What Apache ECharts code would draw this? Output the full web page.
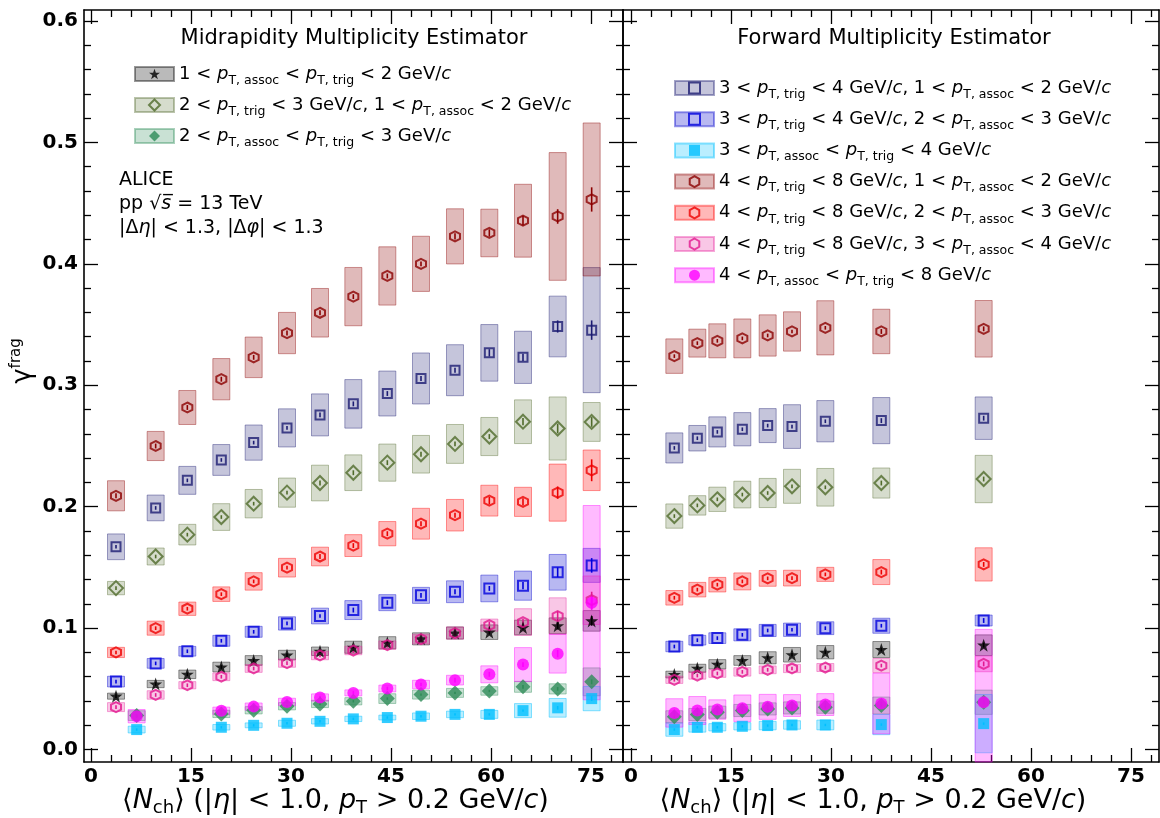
<!DOCTYPE html>
<html><head><meta charset="utf-8">
<script src="https://cdn.jsdelivr.net/npm/echarts/dist/echarts.min.js"></script>
<style>html,body{margin:0;padding:0;background:#fff}#c{width:1160px;height:818px}</style>
</head><body><div id="c"></div><script>
// ---------- tick values ----------
const xMajorTicks = [0, 15, 30, 45, 60, 75];
const xMinorTicks = [3, 6, 9, 12, 18, 21, 24, 27, 33, 36, 39, 42, 48, 51, 54, 57, 63, 66, 69, 72, 78];
const yMajorTicks = [0, 0.1, 0.2, 0.3, 0.4, 0.5, 0.6];
const yTickLabels = ['0.0', '0.1', '0.2', '0.3', '0.4', '0.5', '0.6'];
const yMinorTicks = [0.02, 0.04, 0.06, 0.08, 0.12, 0.14, 0.16, 0.18, 0.22, 0.24, 0.26, 0.28, 0.32, 0.34, 0.36, 0.38, 0.42, 0.44, 0.46, 0.48, 0.52, 0.54, 0.56, 0.58];

// ---------- categories (legend labels) ----------
const seriesKeys = ['A', 'B', 'C', 'D', 'E', 'F', 'G', 'H', 'I', 'J'];
const legendLabels = {
  A: '1 < {i|p}{s|T, assoc} < {i|p}{s|T, trig} < 2 GeV/{i|c}',
  B: '2 < {i|p}{s|T, trig} < 3 GeV/{i|c}, 1 < {i|p}{s|T, assoc} < 2 GeV/{i|c}',
  C: '2 < {i|p}{s|T, assoc} < {i|p}{s|T, trig} < 3 GeV/{i|c}',
  D: '3 < {i|p}{s|T, trig} < 4 GeV/{i|c}, 1 < {i|p}{s|T, assoc} < 2 GeV/{i|c}',
  E: '3 < {i|p}{s|T, trig} < 4 GeV/{i|c}, 2 < {i|p}{s|T, assoc} < 3 GeV/{i|c}',
  F: '3 < {i|p}{s|T, assoc} < {i|p}{s|T, trig} < 4 GeV/{i|c}',
  G: '4 < {i|p}{s|T, trig} < 8 GeV/{i|c}, 1 < {i|p}{s|T, assoc} < 2 GeV/{i|c}',
  H: '4 < {i|p}{s|T, trig} < 8 GeV/{i|c}, 2 < {i|p}{s|T, assoc} < 3 GeV/{i|c}',
  I: '4 < {i|p}{s|T, trig} < 8 GeV/{i|c}, 3 < {i|p}{s|T, assoc} < 4 GeV/{i|c}',
  J: '4 < {i|p}{s|T, assoc} < {i|p}{s|T, trig} < 8 GeV/{i|c}'
};
const leftLegendKeys = ['A', 'B', 'C'];
const rightLegendKeys = ['D', 'E', 'F', 'G', 'H', 'I', 'J'];

// ---------- Midrapidity estimator data ----------
const midX    = [3.75, 9.7, 14.45, 19.55, 24.4, 29.4, 34.35, 39.35, 44.45, 49.5, 54.6, 59.75, 64.8, 70.0, 75.1];
const midXLow = [6.85, 19.55, 24.4, 29.4, 34.35, 39.35, 44.45, 49.5, 54.6, 59.75, 64.8, 70.0, 75.1];

const midA     = [0.044, 0.054, 0.062, 0.068, 0.0734, 0.0778, 0.081, 0.0843, 0.088, 0.0912, 0.096, 0.0967, 0.1006, 0.102, 0.106];
const midAsys  = [0.0025, 0.003, 0.0035, 0.004, 0.004, 0.004, 0.0035, 0.005, 0.005, 0.005, 0.005, 0.006, 0.006, 0.0065, 0.0085];
const midAstat = [0.0015, 0.0015, 0.0015, 0.0015, 0.0015, 0.0015, 0.0015, 0.0015, 0.0015, 0.0015, 0.0015, 0.002, 0.002, 0.003, 0.004];

const midB     = [0.133, 0.159, 0.177, 0.1915, 0.2025, 0.2116, 0.2195, 0.228, 0.2363, 0.2432, 0.2517, 0.2578, 0.270, 0.2644, 0.2698];
const midBsys  = [0.0055, 0.007, 0.0085, 0.011, 0.0117, 0.012, 0.0147, 0.0147, 0.0153, 0.0155, 0.016, 0.0157, 0.018, 0.026, 0.016];
const midBstat = [0.0015, 0.0015, 0.0015, 0.0015, 0.0015, 0.0015, 0.002, 0.002, 0.002, 0.002, 0.002, 0.002, 0.003, 0.004, 0.004];

const midC     = [0.028, 0.0294, 0.0324, 0.0357, 0.0376, 0.0398, 0.042, 0.0453, 0.0467, 0.0483, 0.0517, 0.050, 0.0558];
const midCsys  = [0.004, 0.003, 0.003, 0.003, 0.003, 0.003, 0.004, 0.0037, 0.0037, 0.0035, 0.0045, 0.0042, 0.0115];
const midCstat = [0.001, 0.001, 0.001, 0.001, 0.001, 0.001, 0.001, 0.001, 0.001, 0.001, 0.0015, 0.0015, 0.002];

const midD     = [0.167, 0.199, 0.2217, 0.2385, 0.2528, 0.2649, 0.2756, 0.2847, 0.2932, 0.3056, 0.3124, 0.3267, 0.323, 0.3484, 0.3454];
const midDsys  = [0.0106, 0.0106, 0.0115, 0.0127, 0.0145, 0.0157, 0.0173, 0.020, 0.0185, 0.021, 0.021, 0.0233, 0.0215, 0.025, 0.0515];
const midDstat = [0.0015, 0.0015, 0.0015, 0.0015, 0.0015, 0.0015, 0.002, 0.002, 0.002, 0.002, 0.002, 0.003, 0.003, 0.005, 0.008];

const midE     = [0.056, 0.071, 0.081, 0.0896, 0.097, 0.1039, 0.110, 0.1149, 0.121, 0.127, 0.130, 0.1327, 0.135, 0.146, 0.1517];
const midEsys  = [0.0044, 0.004, 0.004, 0.0045, 0.0045, 0.0055, 0.0065, 0.0078, 0.0066, 0.0066, 0.009, 0.011, 0.012, 0.0147, 0.014];
const midEstat = [0.0015, 0.0015, 0.0015, 0.0015, 0.0015, 0.0015, 0.0015, 0.002, 0.002, 0.002, 0.002, 0.002, 0.003, 0.004, 0.006];

const midF     = [0.0165, 0.0184, 0.020, 0.0217, 0.0233, 0.0253, 0.0264, 0.0275, 0.029, 0.029, 0.0321, 0.0344, 0.042];
const midFsys  = [0.0028, 0.0023, 0.002, 0.0025, 0.0022, 0.0022, 0.002, 0.0027, 0.0027, 0.0033, 0.0058, 0.0077, 0.010];
const midFstat = [0.001, 0.001, 0.001, 0.001, 0.001, 0.001, 0.001, 0.001, 0.001, 0.001, 0.001, 0.0015, 0.002];

const midG     = [0.209, 0.250, 0.2817, 0.305, 0.323, 0.343, 0.3597, 0.373, 0.390, 0.400, 0.4226, 0.4254, 0.4355, 0.439, 0.453];
const midGsys  = [0.0124, 0.012, 0.014, 0.017, 0.0167, 0.017, 0.020, 0.024, 0.024, 0.0227, 0.0227, 0.0196, 0.030, 0.0526, 0.063];
const midGstat = [0.002, 0.002, 0.002, 0.002, 0.002, 0.002, 0.002, 0.002, 0.002, 0.002, 0.0025, 0.003, 0.004, 0.006, 0.010];

const midH     = [0.080, 0.100, 0.116, 0.128, 0.1385, 0.1498, 0.159, 0.168, 0.1778, 0.186, 0.193, 0.205, 0.204, 0.2116, 0.230];
const midHsys  = [0.0042, 0.0058, 0.0055, 0.006, 0.0072, 0.0077, 0.0077, 0.009, 0.010, 0.0127, 0.013, 0.0127, 0.012, 0.0235, 0.0167];
const midHstat = [0.0015, 0.0015, 0.0015, 0.0015, 0.0015, 0.0015, 0.002, 0.002, 0.002, 0.002, 0.002, 0.003, 0.003, 0.005, 0.009];

const midI     = [0.035, 0.045, 0.053, 0.060, 0.0668, 0.0712, 0.0775, 0.0816, 0.086, 0.091, 0.096, 0.1025, 0.105, 0.110, 0.123];
const midIsys  = [0.0037, 0.0035, 0.003, 0.0032, 0.0032, 0.0034, 0.0035, 0.0035, 0.0035, 0.004, 0.005, 0.005, 0.011, 0.015, 0.020];
const midIstat = [0.0015, 0.0015, 0.0015, 0.0015, 0.0015, 0.0015, 0.0015, 0.002, 0.002, 0.002, 0.002, 0.003, 0.003, 0.004, 0.007];

const midJ     = [0.0275, 0.032, 0.0354, 0.0393, 0.0429, 0.0467, 0.0503, 0.0536, 0.0572, 0.062, 0.070, 0.079, 0.121];
const midJsys  = [0.0055, 0.003, 0.003, 0.003, 0.003, 0.0025, 0.0028, 0.0035, 0.004, 0.007, 0.014, 0.016, 0.080];
const midJstat = [0.0015, 0.0015, 0.0015, 0.0015, 0.0015, 0.0015, 0.0015, 0.0015, 0.002, 0.002, 0.002, 0.003, 0.006];

// ---------- Forward estimator data ----------
const fwdX = [6.5, 9.95, 12.95, 16.7, 20.5, 24.15, 29.15, 37.55, 52.9];

const fwdA     = [0.0618, 0.067, 0.0703, 0.0734, 0.0756, 0.0781, 0.0802, 0.0824, 0.086];
const fwdAsys  = [0.0028, 0.0033, 0.0038, 0.004, 0.005, 0.006, 0.0055, 0.0066, 0.0085];
const fwdAstat = [0.0015, 0.0015, 0.0015, 0.0015, 0.0015, 0.0015, 0.0015, 0.0015, 0.002];

const fwdB     = [0.1923, 0.2011, 0.2061, 0.21, 0.2113, 0.2168, 0.216, 0.2195, 0.2228];
const fwdBsys  = [0.010, 0.008, 0.010, 0.011, 0.012, 0.014, 0.0155, 0.0124, 0.0195];
const fwdBstat = [0.0015, 0.0015, 0.0015, 0.0015, 0.0015, 0.0015, 0.0015, 0.002, 0.002];

const fwdC     = [0.027, 0.0289, 0.0308, 0.0322, 0.0335, 0.0343, 0.0349, 0.0363, 0.039];
const fwdCsys  = [0.005, 0.005, 0.005, 0.005, 0.005, 0.005, 0.005, 0.007, 0.010];
const fwdCstat = [0.001, 0.001, 0.001, 0.001, 0.001, 0.001, 0.001, 0.001, 0.0015];

const fwdD     = [0.2484, 0.2564, 0.2616, 0.2638, 0.2668, 0.266, 0.2704, 0.2709, 0.2729];
const fwdDsys  = [0.0124, 0.0105, 0.0124, 0.0137, 0.014, 0.018, 0.017, 0.019, 0.0175];
const fwdDstat = [0.0015, 0.0015, 0.0015, 0.0015, 0.0015, 0.0015, 0.0015, 0.002, 0.002];

const fwdE     = [0.0849, 0.0901, 0.0918, 0.0945, 0.0981, 0.0987, 0.100, 0.102, 0.1063];
const fwdEsys  = [0.0043, 0.004, 0.0044, 0.005, 0.005, 0.0055, 0.0053, 0.0062, 0.0045];
const fwdEstat = [0.0015, 0.0015, 0.0015, 0.0015, 0.0015, 0.0015, 0.0015, 0.0015, 0.002];

const fwdF     = [0.0165, 0.0184, 0.0184, 0.0192, 0.0198, 0.0203, 0.0203, 0.0206, 0.0214];
const fwdFsys  = [0.0055, 0.004, 0.003, 0.003, 0.0035, 0.0035, 0.004, 0.0083, 0.024];
const fwdFstat = [0.001, 0.001, 0.001, 0.001, 0.001, 0.001, 0.001, 0.001, 0.001];

const fwdG     = [0.324, 0.3347, 0.3366, 0.3386, 0.341, 0.3443, 0.3473, 0.3443, 0.3465];
const fwdGsys  = [0.0142, 0.0115, 0.014, 0.016, 0.017, 0.0162, 0.0223, 0.0183, 0.0233];
const fwdGstat = [0.0015, 0.0015, 0.0015, 0.0015, 0.0015, 0.0015, 0.0015, 0.002, 0.002];

const fwdH     = [0.125, 0.1317, 0.1358, 0.1385, 0.141, 0.1412, 0.1443, 0.1462, 0.1525];
const fwdHsys  = [0.006, 0.006, 0.006, 0.007, 0.0065, 0.0065, 0.0058, 0.0103, 0.0137];
const fwdHstat = [0.0015, 0.0015, 0.0015, 0.0015, 0.0015, 0.0015, 0.0015, 0.002, 0.002];

const fwdI     = [0.0575, 0.061, 0.0627, 0.064, 0.0657, 0.0668, 0.0676, 0.0692, 0.0706];
const fwdIsys  = [0.003, 0.003, 0.0032, 0.0035, 0.0032, 0.0034, 0.0033, 0.0058, 0.0065];
const fwdIstat = [0.0015, 0.0015, 0.0015, 0.0015, 0.0015, 0.0015, 0.0015, 0.0015, 0.002];

const fwdJ     = [0.0302, 0.0322, 0.033, 0.034, 0.0352, 0.0363, 0.0371, 0.0379, 0.039];
const fwdJsys  = [0.0117, 0.0115, 0.008, 0.011, 0.0103, 0.009, 0.009, 0.025, 0.060];
const fwdJstat = [0.0015, 0.0015, 0.0015, 0.0015, 0.0015, 0.0015, 0.0015, 0.0015, 0.002];

// ---------- styles ----------
const FONT = 'DejaVu Sans';
const STAR = 'path://M50,2 L61.8,36.2 L97.6,36.2 L68.6,57.6 L79.4,92 L50,71 L20.6,92 L31.4,57.6 L2.4,36.2 L38.2,36.2 Z';
const HEX = 'path://M50,0 L93.3,25 L93.3,75 L50,100 L6.7,75 L6.7,25 Z';
const STYLE = {
  A: {symbol: STAR, size: 13, color: '#000000', hollow: false, box: 'rgba(0,0,0,0.27)', edge: 'rgba(0,0,0,0.4)'},
  B: {symbol: 'diamond', size: 14, color: '#4f6a2a', hollow: true, box: 'rgba(85,107,47,0.24)', edge: 'rgba(85,107,47,0.4)'},
  C: {symbol: 'diamond', size: 15, color: '#2e8b57', hollow: false, box: 'rgba(46,139,87,0.26)', edge: 'rgba(46,139,87,0.4)'},
  D: {symbol: 'rect', size: 9, color: '#1c1c72', hollow: true, box: 'rgba(25,25,112,0.25)', edge: 'rgba(25,25,112,0.4)'},
  E: {symbol: 'rect', size: 10, color: '#0000dd', hollow: true, box: 'rgba(0,0,205,0.28)', edge: 'rgba(0,0,205,0.4)'},
  F: {symbol: 'rect', size: 11, color: '#00bfff', hollow: false, box: 'rgba(0,191,255,0.27)', edge: 'rgba(0,191,255,0.45)'},
  G: {symbol: HEX, size: 10, color: '#8b0000', hollow: true, box: 'rgba(139,0,0,0.27)', edge: 'rgba(139,0,0,0.4)'},
  H: {symbol: HEX, size: 10, color: '#ee0000', hollow: true, box: 'rgba(255,0,0,0.28)', edge: 'rgba(255,0,0,0.4)'},
  I: {symbol: HEX, size: 10, color: '#e2188f', hollow: true, box: 'rgba(232,40,160,0.26)', edge: 'rgba(232,40,160,0.4)'},
  J: {symbol: 'circle', size: 12, color: '#ff00ff', hollow: false, box: 'rgba(255,0,255,0.27)', edge: 'rgba(255,0,255,0.4)'}
};
const BOX_PX = 17;

const X_LEFT = [-1.05, 79.8];
const X_RIGHT = [-1.2, 79.2];
const Y_RANGE = [-0.0102, 0.609];

const panels = [
  {axis: 0, data: {
    A: [midX, midA, midAsys, midAstat], B: [midX, midB, midBsys, midBstat], C: [midXLow, midC, midCsys, midCstat],
    D: [midX, midD, midDsys, midDstat], E: [midX, midE, midEsys, midEstat], F: [midXLow, midF, midFsys, midFstat],
    G: [midX, midG, midGsys, midGstat], H: [midX, midH, midHsys, midHstat], I: [midX, midI, midIsys, midIstat],
    J: [midXLow, midJ, midJsys, midJstat]}},
  {axis: 4, data: {
    A: [fwdX, fwdA, fwdAsys, fwdAstat], B: [fwdX, fwdB, fwdBsys, fwdBstat], C: [fwdX, fwdC, fwdCsys, fwdCstat],
    D: [fwdX, fwdD, fwdDsys, fwdDstat], E: [fwdX, fwdE, fwdEsys, fwdEstat], F: [fwdX, fwdF, fwdFsys, fwdFstat],
    G: [fwdX, fwdG, fwdGsys, fwdGstat], H: [fwdX, fwdH, fwdHsys, fwdHstat], I: [fwdX, fwdI, fwdIsys, fwdIstat],
    J: [fwdX, fwdJ, fwdJsys, fwdJstat]}}
];

function boxRenderer(st) {
  return function (params, api) {
    const x = api.value(0), y = api.value(1), e = api.value(2);
    const top = api.coord([x, y + e]);
    const bot = api.coord([x, y - e]);
    const cs = params.coordSys;
    const shape = echarts.graphic.clipRectByRect(
      {x: top[0] - BOX_PX / 2, y: top[1], width: BOX_PX, height: bot[1] - top[1]},
      {x: cs.x, y: cs.y, width: cs.width, height: cs.height});
    if (!shape) return null;
    return {type: 'rect', shape: shape, style: {fill: st.box, stroke: st.edge, lineWidth: 1}};
  };
}
function statRenderer(st) {
  return function (params, api) {
    const x = api.value(0), y = api.value(1), e = api.value(2);
    const a = api.coord([x, y + e]);
    const b = api.coord([x, y - e]);
    return {type: 'line', shape: {x1: a[0], y1: a[1], x2: b[0], y2: b[1]}, style: {stroke: st.color, lineWidth: 1.6}};
  };
}

const series = [];
panels.forEach(function (p) {
  seriesKeys.forEach(function (key) {
    const d = p.data[key];
    const xs = d[0], ys = d[1], sys = d[2], stat = d[3];
    const st = STYLE[key];
    series.push({
      type: 'custom', name: key + 'box', xAxisIndex: p.axis, yAxisIndex: p.axis, z: 1, silent: true,
      itemStyle: {color: st.box, borderColor: st.edge, borderWidth: 1},
      data: xs.map(function (x, i) { return [x, ys[i], sys[i]]; }),
      renderItem: boxRenderer(st)
    });
    series.push({
      type: 'custom', name: key + 'stat', xAxisIndex: p.axis, yAxisIndex: p.axis, z: 2, silent: true,
      data: xs.map(function (x, i) { return [x, ys[i], stat[i]]; }),
      renderItem: statRenderer(st)
    });
  });
  seriesKeys.forEach(function (key) {
    const d = p.data[key];
    const st = STYLE[key];
    series.push({
      type: 'scatter', name: key, xAxisIndex: p.axis, yAxisIndex: p.axis, z: 3, silent: true,
      symbol: st.symbol, symbolSize: st.size,
      itemStyle: st.hollow ? {color: 'rgba(0,0,0,0)', borderColor: st.color, borderWidth: 2} : {color: st.color},
      data: d[0].map(function (x, i) { return [x, d[1][i]]; })
    });
  });
});

// ---------- axes ----------
const LINE = {color: '#000', width: 1.6};
const TICK = {color: '#000', width: 1.3};
const xNameRich = {
  i: {fontFamily: FONT, fontStyle: 'italic', fontSize: 27, lineHeight: 32},
  s: {fontFamily: FONT, fontSize: 18, lineHeight: 16, verticalAlign: 'bottom'}
};
const xName = '\u27E8{i|N}{s|ch}\u27E9 (|{i|\u03B7}| < 1.0, {i|p}{s|T} > 0.2 GeV/{i|c})';

function xAxes(grid, range) {
  const c = {type: 'value', gridIndex: grid, min: range[0], max: range[1], splitLine: {show: false}};
  return [
    Object.assign({}, c, {position: 'bottom',
      axisLine: {show: true, onZero: false, lineStyle: LINE},
      axisTick: {show: true, inside: true, length: 14, customValues: xMajorTicks, lineStyle: TICK},
      axisLabel: {show: true, customValues: xMajorTicks, margin: 5, color: '#000', fontFamily: FONT, fontSize: 20, fontWeight: 'bold'},
      name: xName, nameLocation: 'middle', nameGap: 23, nameMoveOverlap: false,
      nameTextStyle: {color: '#000', fontFamily: FONT, fontSize: 27, lineHeight: 32, padding: [0, 36, 0, 0], rich: xNameRich}}),
    Object.assign({}, c, {position: 'bottom', axisLine: {show: false, onZero: false},
      axisTick: {show: true, inside: true, length: 7, customValues: xMinorTicks, lineStyle: TICK}, axisLabel: {show: false}}),
    Object.assign({}, c, {position: 'top', axisLine: {show: true, onZero: false, lineStyle: LINE},
      axisTick: {show: true, inside: true, length: 14, customValues: xMajorTicks, lineStyle: TICK}, axisLabel: {show: false}}),
    Object.assign({}, c, {position: 'top', axisLine: {show: false, onZero: false},
      axisTick: {show: true, inside: true, length: 7, customValues: xMinorTicks, lineStyle: TICK}, axisLabel: {show: false}})
  ];
}
function yAxes(grid, withLabels) {
  const c = {type: 'value', gridIndex: grid, min: Y_RANGE[0], max: Y_RANGE[1], splitLine: {show: false}};
  const main = Object.assign({}, c, {position: 'left',
    axisLine: {show: true, onZero: false, lineStyle: LINE},
    axisTick: {show: true, inside: true, length: 14, customValues: yMajorTicks, lineStyle: TICK},
    axisLabel: withLabels ? {show: true, customValues: yMajorTicks, margin: 6, color: '#000', fontFamily: FONT, fontSize: 20, fontWeight: 'bold',
      formatter: function (v) { return yTickLabels[yMajorTicks.indexOf(v)] || v.toFixed(1); }} : {show: false}});
  if (withLabels) {
    Object.assign(main, {name: '{g|\u03B3}{sup|frag}', nameLocation: 'middle', nameGap: 43,
      nameTextStyle: {color: '#000', fontFamily: FONT, fontSize: 24, lineHeight: 30, padding: [0, 0, 0, 50],
        rich: {g: {fontFamily: FONT, fontSize: 26, lineHeight: 30}, sup: {fontFamily: FONT, fontSize: 15, lineHeight: 16, verticalAlign: 'top'}}}});
  }
  return [
    main,
    Object.assign({}, c, {position: 'left', axisLine: {show: false, onZero: false},
      axisTick: {show: true, inside: true, length: 7, customValues: yMinorTicks, lineStyle: TICK}, axisLabel: {show: false}}),
    Object.assign({}, c, {position: 'right', axisLine: {show: true, onZero: false, lineStyle: LINE},
      axisTick: {show: true, inside: true, length: 14, customValues: yMajorTicks, lineStyle: TICK}, axisLabel: {show: false}}),
    Object.assign({}, c, {position: 'right', axisLine: {show: false, onZero: false},
      axisTick: {show: true, inside: true, length: 7, customValues: yMinorTicks, lineStyle: TICK}, axisLabel: {show: false}})
  ];
}

// ---------- legends ----------
function legendRich(color) {
  return {
    i: {color: color, fontFamily: FONT, fontStyle: 'italic', fontSize: 18, lineHeight: 26},
    s: {color: color, fontFamily: FONT, fontSize: 12.5, lineHeight: 12, verticalAlign: 'bottom'}
  };
}
function boxLegend(keys, left, top, gap) {
  return {orient: 'vertical', left: left, top: top, padding: 0, itemGap: gap, itemWidth: 39, itemHeight: 14,
    icon: 'rect', selectedMode: false,
    data: keys.map(function (k) { return k + 'box'; }),
    formatter: function (name) { return legendLabels[name.replace('box', '')]; },
    textStyle: {color: '#000', fontFamily: FONT, fontSize: 18, lineHeight: 26, rich: legendRich('#000')}};
}
// marker icons drawn over the shaded rectangles; same (invisible) text so the rows line up
function markerLegend(keys, left, top, gap) {
  return {orient: 'vertical', left: left + 14, top: top, padding: 0, itemGap: gap, itemWidth: 11, itemHeight: 11,
    selectedMode: false, data: keys,
    formatter: function (name) { return legendLabels[name]; },
    textStyle: {color: 'rgba(0,0,0,0)', fontFamily: FONT, fontSize: 18, lineHeight: 26, rich: legendRich('rgba(0,0,0,0)')}};
}

const option = {
  animation: false,
  backgroundColor: '#fff',
  grid: [
    {left: 84, top: 10, width: 539, height: 752, containLabel: false, outerBoundsMode: 'none'},
    {left: 623, top: 10, width: 536, height: 752, containLabel: false, outerBoundsMode: 'none'}
  ],
  xAxis: xAxes(0, X_LEFT).concat(xAxes(1, X_RIGHT)),
  yAxis: yAxes(0, true).concat(yAxes(1, false)),
  legend: [
    boxLegend(leftLegendKeys, 134, 61, 5),
    markerLegend(leftLegendKeys, 134, 61, 5),
    boxLegend(rightLegendKeys, 674, 75, 5.2),
    markerLegend(rightLegendKeys, 674, 75, 5.2)
  ],
  graphic: [
    {type: 'text', x: 354, y: 39, style: {text: 'Midrapidity Multiplicity Estimator', fontFamily: FONT, fontSize: 21, fill: '#000', align: 'center', verticalAlign: 'middle'}},
    {type: 'text', x: 894, y: 39, style: {text: 'Forward Multiplicity Estimator', fontFamily: FONT, fontSize: 21, fill: '#000', align: 'center', verticalAlign: 'middle'}},
    {type: 'text', x: 119, y: 168, style: {
      text: 'ALICE\npp \u221A{i|s\u0305} = 13 TeV\n|\u0394{i|\u03B7}| < 1.3, |\u0394{i|\u03C6}| < 1.3',
      fontFamily: FONT, fontSize: 19, lineHeight: 24, fill: '#000',
      rich: {i: {fontFamily: FONT, fontStyle: 'italic', fontSize: 19, lineHeight: 24}}}}
  ],
  series: series
};

const chart = echarts.init(document.getElementById('c'), null, {renderer: 'canvas'});
chart.setOption(option);
</script></body></html>
